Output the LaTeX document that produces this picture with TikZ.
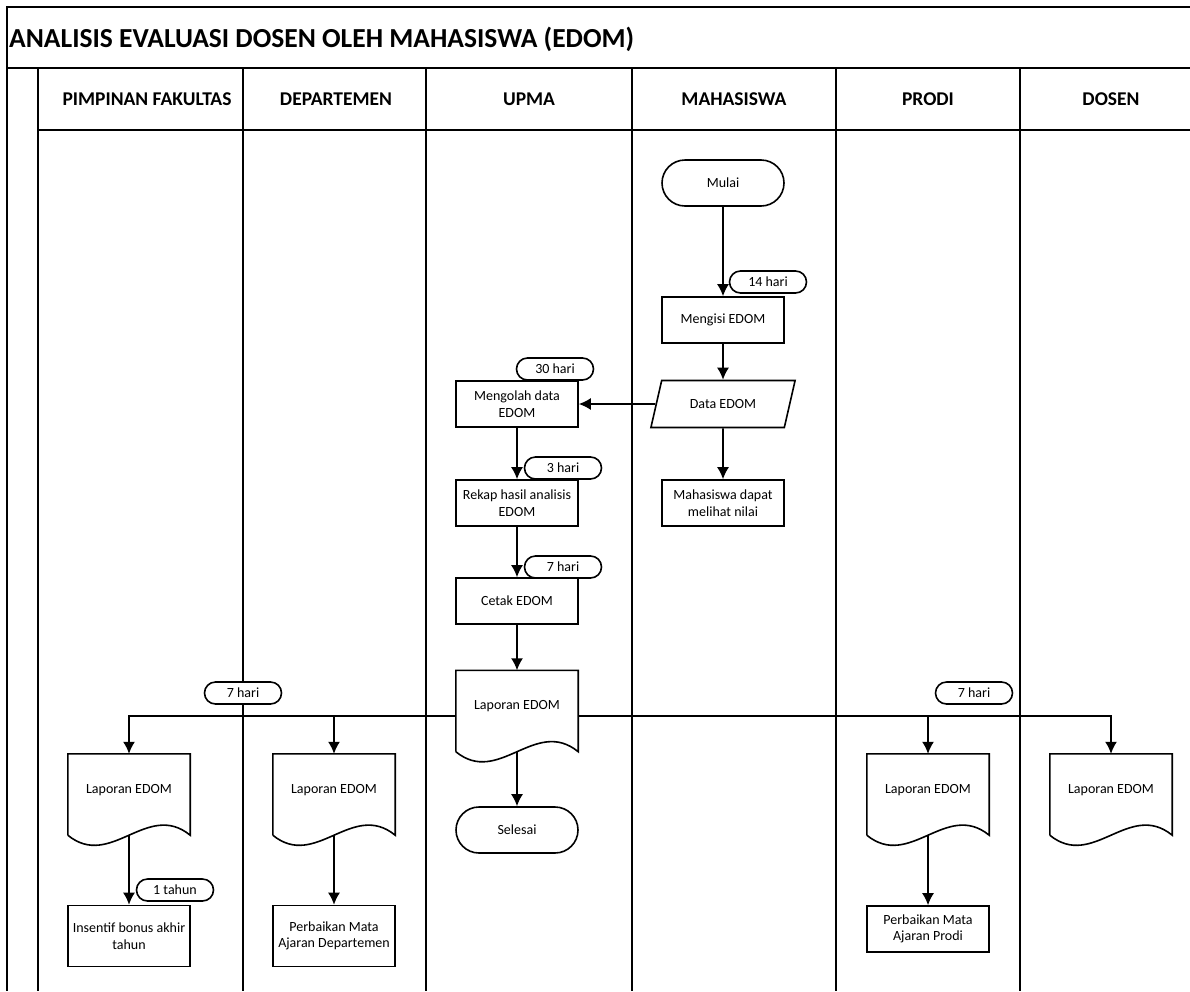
\documentclass[tikz,border=0pt]{standalone}
\usepackage{fontspec}
\setmainfont{Carlito}
\usetikzlibrary{arrows.meta,shapes.geometric}

\tikzset{
	lane/.style = {line width=1.8pt},
	hdr/.style = {font=\fontsize{19.5}{22}\selectfont\bfseries},
	proc/.style = {draw, line width=1.6pt, minimum width=122, minimum height=46, align=center, inner sep=2pt, font=\fontsize{14}{16.5}\selectfont},
	term/.style = {proc, rounded corners=23pt},
	tagbox/.style = {draw, line width=1.6pt, fill=white, rounded corners=11pt, minimum width=77, minimum height=22, inner sep=0pt, font=\fontsize{14}{16}\selectfont},
	doc/.style = {minimum width=122, minimum height=81, inner sep=0pt, text height=9.5pt, text depth=12.5pt, font=\fontsize{14}{16.5}\selectfont},
	io/.style = {draw, trapezium, trapezium left angle=68, trapezium right angle=112, trapezium stretches=true, minimum width=145, minimum height=47, line width=1.6pt, font=\fontsize{14}{16.5}\selectfont}
}
\newcommand{\docline}[1]{%
	\draw[line width=1.6pt] (#1.south west) -- (#1.north west) -- (#1.north east) -- (#1.south east)
		.. controls +(-43,-35) and +(43,35) .. (#1.south west);}

\begin{document}
\begin{tikzpicture}[x=1pt,y=-1pt]
		\tikzset{> = {Latex[length=12pt,width=12pt]}}
		\useasboundingbox (0,0) rectangle (1190,991);
		\draw[lane] (1190,7) -- (7,7) -- (7,991);
		\draw[lane] (7,68) -- (1190,68);
		\draw[lane] (38,130) -- (1190,130);
		\foreach \lx in {38,243,426,632,836,1020}
			\draw[lane] (\lx,68) -- (\lx,991);
		\node[anchor=west, inner sep=0pt, font=\fontsize{27.5}{32}\selectfont\bfseries] (judul) at (9,39) {ANALISIS EVALUASI DOSEN OLEH MAHASISWA (EDOM)};
		\node[hdr] (hPF) at (147,99) {PIMPINAN FAKULTAS};
		\node[hdr] (hDep) at (336,99) {DEPARTEMEN};
		\node[hdr] (hUpma) at (529,99) {UPMA};
		\node[hdr] (hMhs) at (734,99) {MAHASISWA};
		\node[hdr] (hProdi) at (928,99) {PRODI};
		\node[hdr] (hDosen) at (1111,99) {DOSEN};

		\node[term] (mulai) at (723,183) {Mulai};
		\node[proc] (isi) at (723,320) {Mengisi EDOM};
		\node[io] (data) at (723,404) {Data EDOM};
		\node[proc] (lihat) at (723,503) {Mahasiswa dapat\\melihat nilai};
		\node[proc] (olah) at (517,404) {Mengolah data\\EDOM};
		\node[proc] (rekap) at (517,503) {Rekap hasil analisis\\EDOM};
		\node[proc] (cetak) at (517,601) {Cetak EDOM};
		\node[doc] (lapU) at (517,711) {Laporan EDOM};
		\node[term] (selesai) at (517,830) {Selesai};
		\node[doc] (lapPF) at (129,794.5) {Laporan EDOM};
		\node[doc] (lapDep) at (334,794.5) {Laporan EDOM};
		\node[doc] (lapPr) at (928,794.5) {Laporan EDOM};
		\node[doc] (lapDs) at (1111,794.5) {Laporan EDOM};
		\node[proc, minimum height=61] (bonus) at (129,936) {Insentif bonus akhir\\tahun};
		\node[proc, minimum height=61] (perDep) at (334,936) {Perbaikan Mata\\Ajaran Departemen};
		\node[proc] (perPr) at (928,929) {Perbaikan Mata\\Ajaran Prodi};
		\docline{lapU}
		\docline{lapPF}
		\docline{lapDep}
		\docline{lapPr}
		\docline{lapDs}

		\draw[->, line width=1.6pt] (mulai) -- (isi);
		\draw[->, line width=1.6pt] (isi) -- (data);
		\draw[->, line width=1.6pt] (data) -- (olah);
		\draw[->, line width=1.6pt] (data) -- (lihat);
		\draw[->, line width=1.6pt] (olah) -- (rekap);
		\draw[->, line width=1.6pt] (rekap) -- (cetak);
		\draw[->, line width=1.6pt] (cetak) -- (lapU);
		\draw[->, line width=1.6pt] (lapU) -- (selesai);
		\coordinate (brL) at ([yshift=-5pt]lapU.west);
		\coordinate (brR) at ([yshift=-5pt]lapU.east);
		\draw[->, line width=1.6pt] (brL) -| (lapPF);
		\draw[->, line width=1.6pt] (brL -| lapDep) -- (lapDep);
		\draw[->, line width=1.6pt] (brR) -| (lapDs);
		\draw[->, line width=1.6pt] (brR -| lapPr) -- (lapPr);
		\draw[->, line width=1.6pt] (lapPF) -- (bonus);
		\draw[->, line width=1.6pt] (lapDep) -- (perDep);
		\draw[->, line width=1.6pt] (lapPr) -- (perPr);

		\node[tagbox] (t14) at (768,282) {14 hari};
		\node[tagbox] (t30) at (555,369) {30 hari};
		\node[tagbox] (t3) at (563,468) {3 hari};
		\node[tagbox] (t7u) at (563,567) {7 hari};
		\node[tagbox] (t7l) at (243,693) {7 hari};
		\node[tagbox] (t7r) at (974,693) {7 hari};
		\node[tagbox] (t1) at (175,890) {1 tahun};
	\end{tikzpicture}
\end{document}
